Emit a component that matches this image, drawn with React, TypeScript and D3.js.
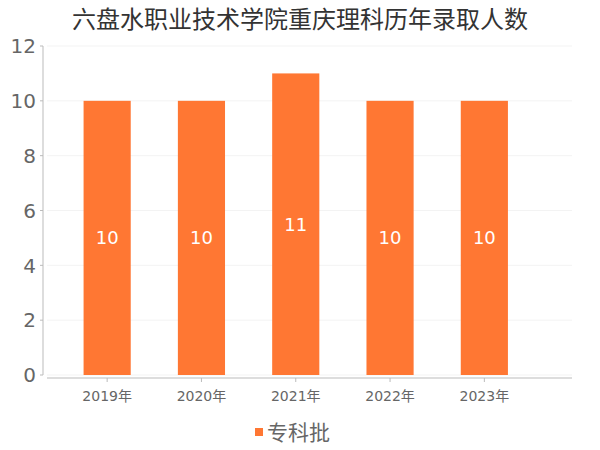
import React from 'react';
import * as d3 from 'd3';

const years = ['2019年', '2020年', '2021年', '2022年', '2023年'];
const counts = [10, 10, 11, 10, 10];
const yTicks = [0, 2, 4, 6, 8, 10, 12];
const seriesName = '专科批';
const title = '六盘水职业技术学院重庆理科历年录取人数';

const font = '"DejaVu Sans", "Noto Sans CJK SC", sans-serif';
const barColor = '#ff7733';

export default function App() {
  const width = 600;
  const height = 450;
  const axisX = 43;
  const axisEnd = 572;

  const x = d3.scaleBand<string>().domain(years).range([60, 531.5])
    .paddingInner(0.5).paddingOuter(0.25);
  const y = d3.scaleLinear().domain([0, 12]).range([375, 46]);

  return (
    <svg width={width} height={height} style={{ position: 'absolute', left: 0, top: 0 }} fontFamily={font}>
      <rect width={width} height={height} fill="#fff" />
      <text x={300} y={28} textAnchor="middle" fontSize={24} fill="#333">{title}</text>

      {/* grid */}
      {yTicks.map(t => (
        <line key={'g' + t} x1={axisX + 4} x2={axisEnd} y1={y(t)} y2={y(t)} stroke="#f3f3f3" />
      ))}

      {/* y axis */}
      <line x1={axisX} x2={axisX} y1={y(12)} y2={y(0)} stroke="#bbb" />
      {yTicks.map(t => (
        <g key={'y' + t}>
          <line x1={axisX - 3} x2={axisX} y1={y(t)} y2={y(t)} stroke="#bbb" />
          <text x={36} y={y(t)} dy="0.36em" textAnchor="end" fontSize={20} fill="#666">{t}</text>
        </g>
      ))}

      {/* bars */}
      {counts.map((v, i) => (
        <g key={'b' + i}>
          <rect x={x(years[i])!} y={y(v)} width={x.bandwidth()} height={y(0) - y(v)} fill={barColor} />
          <text x={x(years[i])! + x.bandwidth() / 2} y={(y(v) + y(0)) / 2} dy="0.36em"
            textAnchor="middle" fontSize={18} fill="#fff">{v}</text>
        </g>
      ))}

      {/* x axis */}
      <line x1={47} x2={axisEnd} y1={378} y2={378} stroke="#bbb" />
      {years.map(yr => {
        const cx = x(yr)! + x.bandwidth() / 2;
        return (
          <g key={'x' + yr}>
            <line x1={cx} x2={cx} y1={378} y2={382} stroke="#bbb" />
            <text x={cx} y={396} dy="0.36em" textAnchor="middle" fontSize={14} fill="#666">{yr}</text>
          </g>
        );
      })}

      {/* legend */}
      <rect x={255} y={428} width={8} height={8} fill={barColor} />
      <text x={267} y={432} dy="0.36em" fontSize={21} fill="#666">{seriesName}</text>
    </svg>
  );
}
